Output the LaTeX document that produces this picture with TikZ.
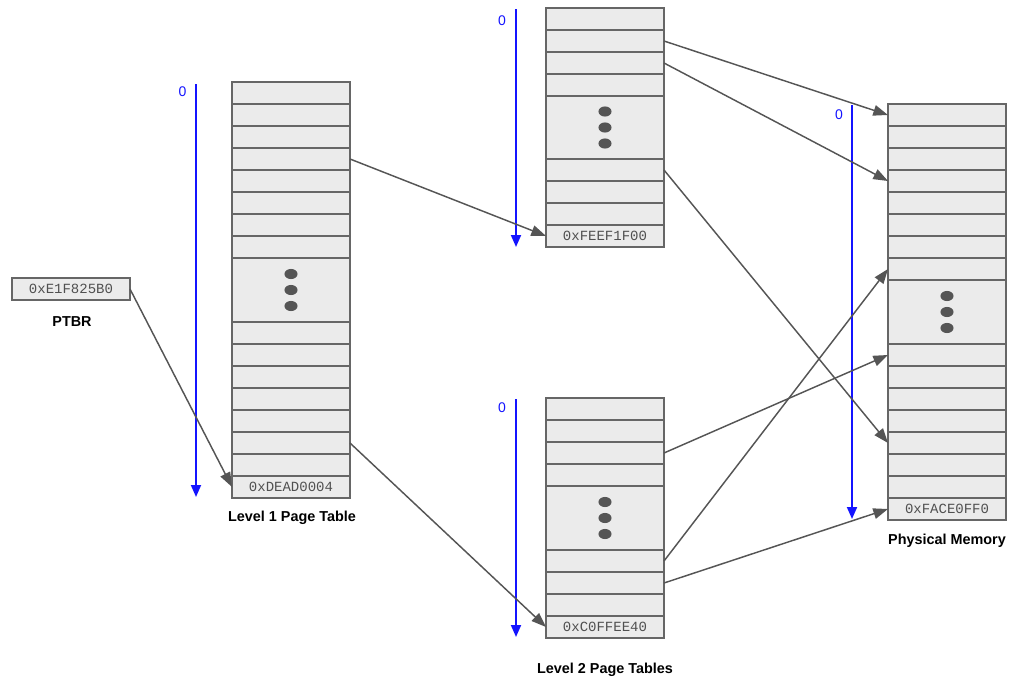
\documentclass[tikz,border=0pt]{standalone}
\usepackage{fontspec}
\setmainfont{Liberation Sans}
\newfontfamily\addrfont{Liberation Mono}
\usetikzlibrary{arrows.meta,calc}

\definecolor{cellfill}{HTML}{EBEBEB}
\definecolor{celledge}{HTML}{666666}
\definecolor{linkgray}{HTML}{555555}
\definecolor{addrgray}{HTML}{505050}
\definecolor{offsetblue}{RGB}{20,20,255}

\tikzset{
  cell/.style={draw=celledge, fill=cellfill, line width=1.2pt, inner sep=0pt, outer sep=0pt,
    minimum width=88.5pt, minimum height=16.5pt,
    font=\addrfont\fontsize{10.5}{12}\selectfont, text=addrgray},
  caption/.style={font=\bfseries\fontsize{10.8}{12}\selectfont, text=black},
  zero/.style={font=\fontsize{10.5}{12}\selectfont, text=offsetblue},
  link/.style={draw=linkgray, line width=1.1pt, -{Triangle[length=11pt,width=8pt]}},
  offset/.style={draw=offsetblue, line width=1.4pt, -{Triangle[length=9pt,width=7.5pt]}},
  dot/.style={fill=linkgray}
}

% #1 name, #2 centre x, #3 top y, #4 height of the elided block,
% #5 rows above (and below) the block, #6 text of the last row
\newcommand\memtable[6]{%
  \foreach \i in {1,...,#5}
    \node[cell] (#1-\i) at (#2,{#3+22*\i-11}) {};
  \node[cell, minimum height=#4*0.75pt] (#1-big) at (#2,{#3+22*#5+#4/2}) {};
  \foreach \d in {-16,0,16}
    \fill[dot] ($(#1-big.center)+(0,\d)$) ellipse [x radius=4.9pt, y radius=3.8pt];
  \pgfmathtruncatemacro\firstlow{#5+1}
  \pgfmathtruncatemacro\lastlow{2*#5-1}
  \pgfmathtruncatemacro\lastrow{2*#5}
  \foreach \i in {\firstlow,...,\lastlow}
    \node[cell] (#1-\i) at (#2,{#3+22*#5+#4+22*(\i-#5)-11}) {};
  \node[cell] (#1-\lastrow) at (#2,{#3+22*#5+#4+22*#5-11}) {#6};
}

\begin{document}
\begin{tikzpicture}[x=0.75pt,y=-0.75pt]
\useasboundingbox (0,0) rectangle (1018,682);

% page table base register
\node[cell] (ptbr) at (71,289) {0xE1F825B0};
\node[caption] (ptbrcap) at (72,322) {PTBR};

% tables
\memtable{L1}{291}{82}{64}{8}{0xDEAD0004}
\memtable{T}{605}{8}{63}{4}{0xFEEF1F00}
\memtable{B}{605}{398}{64}{4}{0xC0FFEE40}
\memtable{P}{947}{104}{64}{8}{0xFACE0FF0}

\node[caption] (l1cap) at (292,518) {Level 1 Page Table};
\node[caption] (l2cap) at (605,670) {Level 2 Page Tables};
\node[caption] (pmcap) at (947,541) {Physical Memory};

% offset axes
\coordinate (a1s) at (196,84);  \coordinate (a1e) at (196,497);
\coordinate (a2s) at (516,9);   \coordinate (a2e) at (516,247);
\coordinate (a3s) at (516,399); \coordinate (a3e) at (516,637);
\coordinate (a4s) at (852,105); \coordinate (a4e) at (852,519);
\draw[offset] (a1s) -- (a1e);
\draw[offset] (a2s) -- (a2e);
\draw[offset] (a3s) -- (a3e);
\draw[offset] (a4s) -- (a4e);
\node[zero] (z1) at (182.5,92) {0};
\node[zero] (z2) at (502,21) {0};
\node[zero] (z3) at (502,408) {0};
\node[zero] (z4) at (839,115) {0};

% pointers
\draw[link] (ptbr.east) -- (L1-16.west);
\draw[link] (L1-4.east) -- (T-8.west);
\draw[link] (L1-14.east) -- (B-8.west);
\draw[link] (T-2.east) -- (P-1.west);
\draw[link] (T-3.east) -- (P-4.west);
\draw[link] (T-5.east) -- (P-13.west);
\draw[link] (B-3.east) -- (P-9.west);
\draw[link] (B-5.east) -- (P-8.west);
\draw[link] (B-6.east) -- (P-16.west);
\end{tikzpicture}
\end{document}
